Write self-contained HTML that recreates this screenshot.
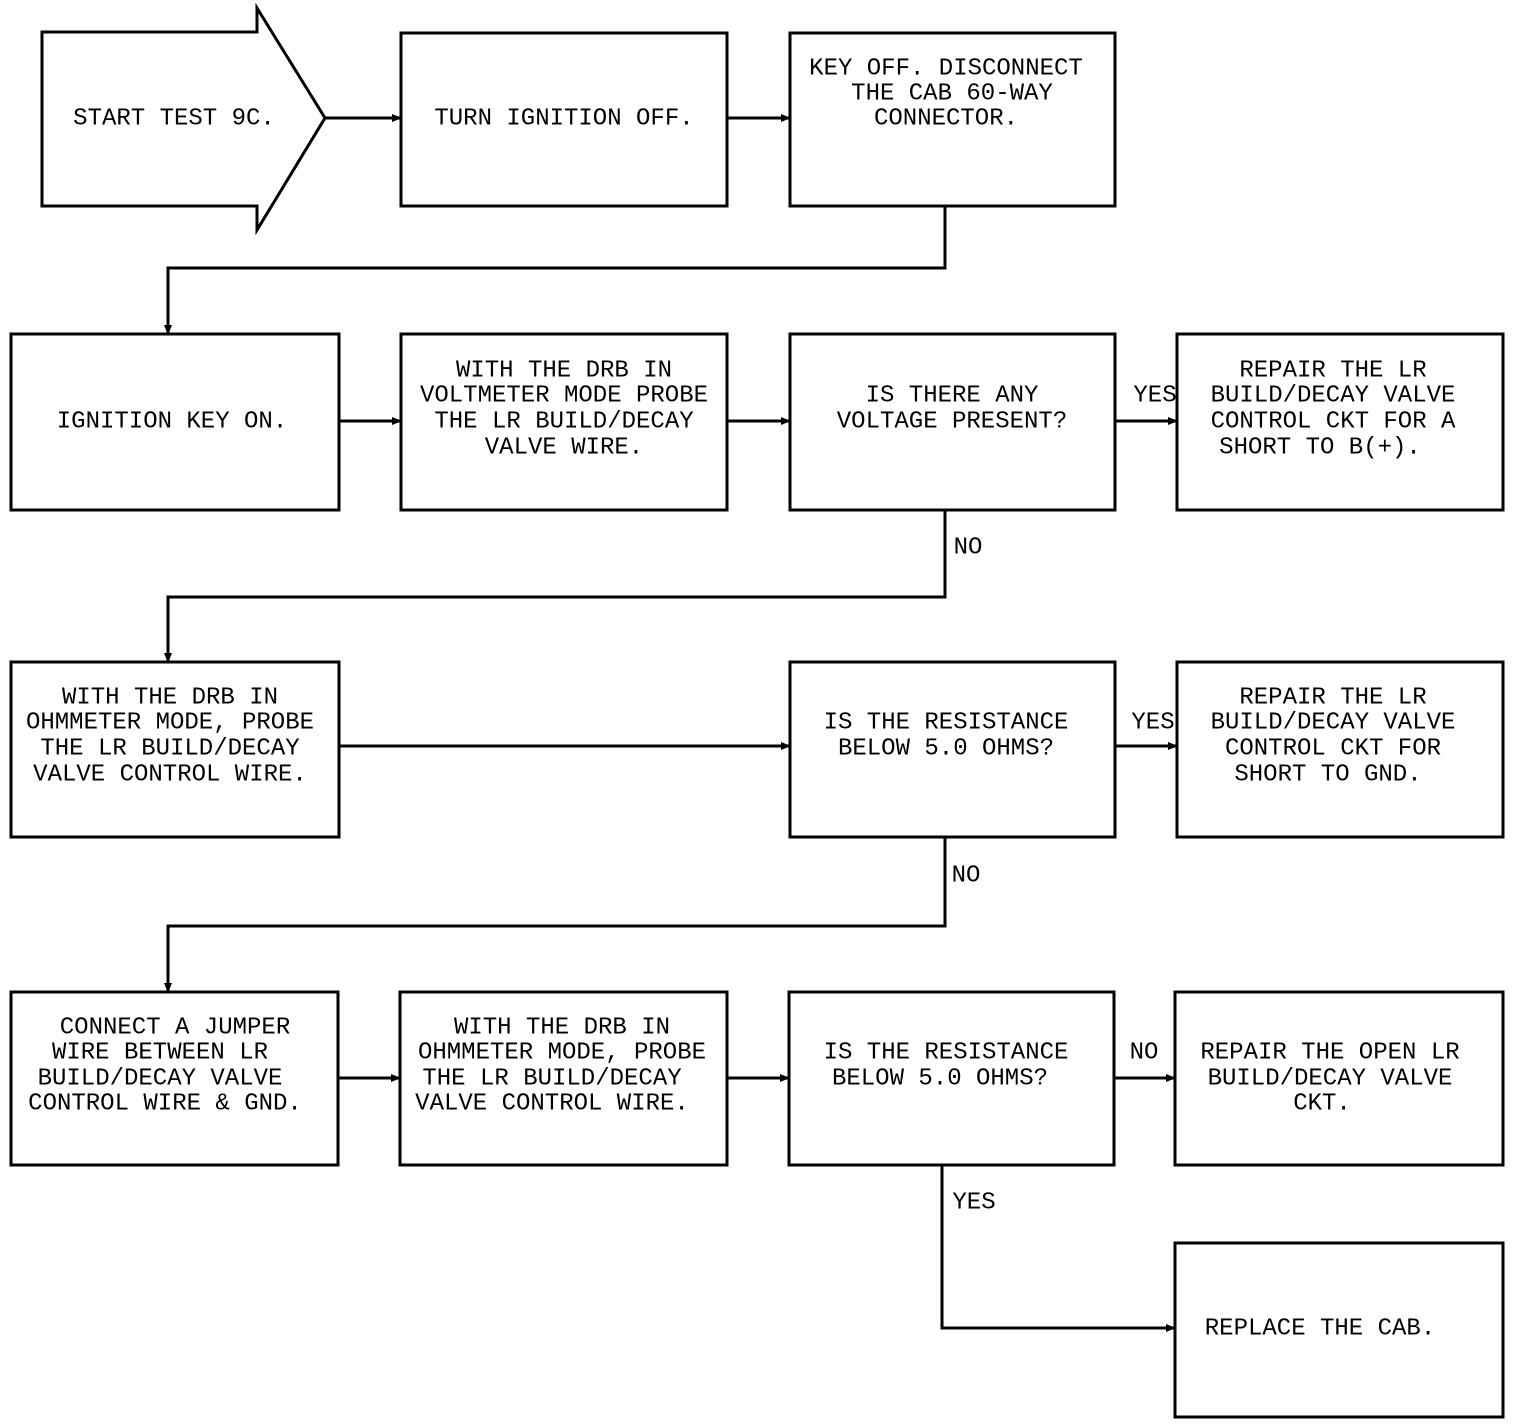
<!DOCTYPE html>
<html><head><meta charset="utf-8"><style>
html,body{margin:0;padding:0;background:#fff;}
svg{display:block;}
text{font-family:"Liberation Mono",monospace;font-size:24px;fill:#000;text-anchor:middle;dominant-baseline:middle;}
</style></head><body>
<svg width="1520" height="1424" viewBox="0 0 1520 1424" xmlns="http://www.w3.org/2000/svg">
<defs><marker id="a" markerWidth="10" markerHeight="8" refX="9" refY="4" orient="auto" markerUnits="userSpaceOnUse"><path d="M0,0 L10,4 L0,8 z" fill="#000"/></marker></defs>
<g fill="none" stroke="#000" stroke-width="3">
<path d="M42,32 H257 V8 L325,118 L257,230 V206 H42 Z"/>
<rect x="401" y="33" width="326" height="173"/>
<rect x="790" y="33" width="325" height="173"/>
<rect x="11" y="334" width="328" height="176"/>
<rect x="401" y="334" width="326" height="176"/>
<rect x="790" y="334" width="325" height="176"/>
<rect x="1177" y="334" width="326" height="176"/>
<rect x="11" y="662" width="328" height="175"/>
<rect x="790" y="662" width="325" height="175"/>
<rect x="1177" y="662" width="326" height="175"/>
<rect x="11" y="992" width="327" height="173"/>
<rect x="400" y="992" width="327" height="173"/>
<rect x="789" y="992" width="325" height="173"/>
<rect x="1175" y="992" width="328" height="173"/>
<rect x="1175" y="1243" width="328" height="174"/>
</g>
<g fill="none" stroke="#000" stroke-width="3" marker-end="url(#a)">
<path d="M325,118 H401"/>
<path d="M727,118 H790"/>
<path d="M945,206 V268 H168 V334"/>
<path d="M339,421 H401"/>
<path d="M727,421 H790"/>
<path d="M1115,421 H1177"/>
<path d="M945,510 V597 H168 V662"/>
<path d="M339,746 H790"/>
<path d="M1115,746 H1177"/>
<path d="M945,837 V926 H168 V992"/>
<path d="M338,1078 H400"/>
<path d="M727,1078 H789"/>
<path d="M1114,1078 H1175"/>
<path d="M942,1165 V1328 H1175"/>
</g>
<text x="174" y="118">START TEST 9C.</text>
<text x="564" y="118">TURN IGNITION OFF.</text>
<text x="946" y="68">KEY OFF. DISCONNECT</text>
<text x="952" y="93">THE CAB 60-WAY</text>
<text x="946" y="118">CONNECTOR.</text>
<text x="172" y="421">IGNITION KEY ON.</text>
<text x="564" y="370">WITH THE DRB IN</text>
<text x="564" y="395">VOLTMETER MODE PROBE</text>
<text x="564" y="421">THE LR BUILD/DECAY</text>
<text x="564" y="447">VALVE WIRE.</text>
<text x="952" y="395">IS THERE ANY</text>
<text x="952" y="421">VOLTAGE PRESENT?</text>
<text x="1333" y="370">REPAIR THE LR</text>
<text x="1333" y="395">BUILD/DECAY VALVE</text>
<text x="1333" y="421">CONTROL CKT FOR A</text>
<text x="1320" y="447">SHORT TO B(+).</text>
<text x="1155" y="395">YES</text>
<text x="968" y="547">NO</text>
<text x="170" y="697">WITH THE DRB IN</text>
<text x="170" y="722">OHMMETER MODE, PROBE</text>
<text x="170" y="748">THE LR BUILD/DECAY</text>
<text x="170" y="774">VALVE CONTROL WIRE.</text>
<text x="946" y="722">IS THE RESISTANCE</text>
<text x="946" y="748">BELOW 5.0 OHMS?</text>
<text x="1333" y="697">REPAIR THE LR</text>
<text x="1333" y="722">BUILD/DECAY VALVE</text>
<text x="1333" y="748">CONTROL CKT FOR</text>
<text x="1328" y="774">SHORT TO GND.</text>
<text x="1153" y="722">YES</text>
<text x="966" y="875">NO</text>
<text x="175" y="1027">CONNECT A JUMPER</text>
<text x="160" y="1052">WIRE BETWEEN LR</text>
<text x="160" y="1078">BUILD/DECAY VALVE</text>
<text x="165" y="1103">CONTROL WIRE &amp; GND.</text>
<text x="562" y="1027">WITH THE DRB IN</text>
<text x="562" y="1052">OHMMETER MODE, PROBE</text>
<text x="552" y="1078">THE LR BUILD/DECAY</text>
<text x="552" y="1103">VALVE CONTROL WIRE.</text>
<text x="946" y="1052">IS THE RESISTANCE</text>
<text x="940" y="1078">BELOW 5.0 OHMS?</text>
<text x="1144" y="1052">NO</text>
<text x="1330" y="1052">REPAIR THE OPEN LR</text>
<text x="1330" y="1078">BUILD/DECAY VALVE</text>
<text x="1322" y="1103">CKT.</text>
<text x="974" y="1202">YES</text>
<text x="1320" y="1328">REPLACE THE CAB.</text>
</svg>
</body></html>
